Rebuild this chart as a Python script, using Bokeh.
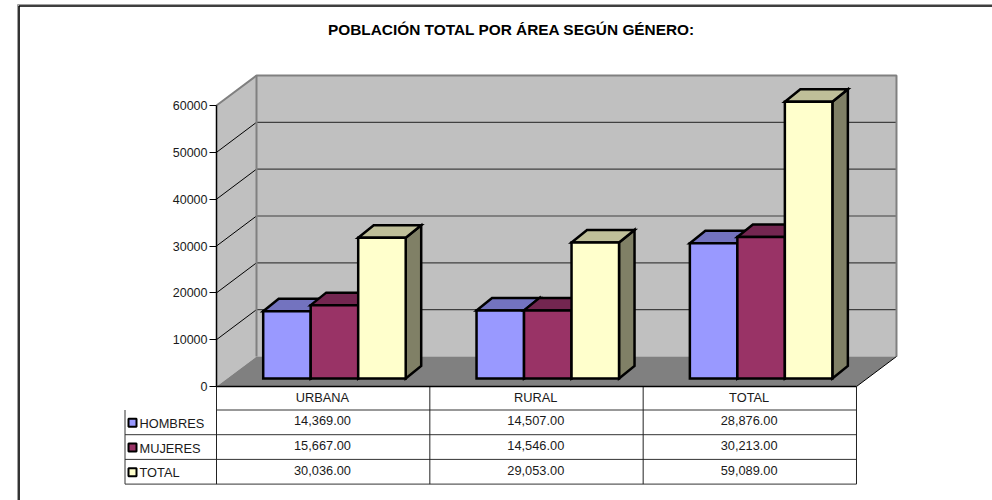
from bokeh.plotting import figure
from bokeh.models import LinearAxis, FixedTicker, Range1d
from bokeh.embed import file_html
from bokeh.resources import INLINE
from bokeh.core.properties import value

TITLE = "POBLACIÓN TOTAL POR ÁREA SEGÚN GÉNERO:"
CATEGORIES = ["URBANA", "RURAL", "TOTAL"]
SERIES = ["HOMBRES", "MUJERES", "TOTAL"]
HOMBRES = [14369, 14507, 28876]
MUJERES = [15667, 14546, 30213]
TOTAL = [30036, 29053, 59089]
TICKS = [0, 10000, 20000, 30000, 40000, 50000, 60000]
FRONT = ["#9999FF", "#993366", "#FFFFCC"]
TOPS = ["#7373BF", "#732650", "#BFBF99"]
SIDES = ["#4D4D80", "#4D1A33", "#808066"]

W, H = 992, 500
PX_X, PX_Y = 213.33, 281 / 60000      # px per category, px per value
X0, Y0 = 216, 386                     # page px of the origin


def dx(px):
    return px / PX_X


def dy(px):
    return px * (1 / PX_Y)


p = figure(width=W, height=H, output_backend="svg", toolbar_location=None,
           x_range=Range1d((0 - X0) / PX_X, (W - X0) / PX_X),
           y_range=Range1d((Y0 - H) / PX_Y, (Y0 - 0) / PX_Y),
           min_border=0, min_border_left=0, min_border_right=0,
           min_border_top=0, min_border_bottom=0,
           x_axis_type=None, y_axis_type=None)
p.grid.visible = False
p.outline_line_color = None
p.background_fill_color = "white"

# 3D walls
ymax = max(TICKS)
wx, wy = dx(40), dy(30)
n = len(CATEGORIES)
p.patch([0, wx, wx, 0], [0, wy, ymax + wy, ymax], fill_color="#C0C0C0", line_color=None)
p.patch([wx, n + wx, n + wx, wx], [wy, wy, ymax + wy, ymax + wy], fill_color="#C0C0C0", line_color=None)
p.patch([0, n, n + wx, wx], [0, 0, wy, wy], fill_color="#808080", line_color=None)

for t in TICKS[1:-1]:
    p.line([0, wx], [t, t + wy], line_color="black", line_width=1)
    p.line([wx, n + wx], [t + wy, t + wy], line_color="#404040", line_width=1.2)
p.line([0, wx, n + wx, n + wx], [ymax, ymax + wy, ymax + wy, wy], line_color="#808080", line_width=2)
p.line([wx, wx], [wy, ymax + wy], line_color="#808080", line_width=2)
p.line([n, n + wx], [0, wy], line_color="black", line_width=1)

# bars
bar_w = dx(47.5)
gap = dx(36)
ox, oy = dx(10.7), dy(8)
bx, by = dx(15.5), dy(12.5)
for i in range(n):
    for s, vals in enumerate([HOMBRES, MUJERES, TOTAL]):
        v = vals[i]
        l = i + ox + gap + s * bar_w
        r = l + bar_w
        b = oy
        t = oy + v
        p.patch([r, r + bx, r + bx, r], [b, b + by, t + by, t], fill_color=SIDES[s],
                line_color="black", line_width=2.5, line_join="miter")
        p.patch([l, r, r + bx, l + bx], [t, t, t + by, t + by], fill_color=TOPS[s],
                line_color="black", line_width=2.5, line_join="miter")
        p.patch([l, r, r, l], [b, b, t, t], fill_color=FRONT[s],
                line_color="black", line_width=2.5, line_join="miter")

# value axis
yax = LinearAxis(fixed_location=0, ticker=FixedTicker(ticks=TICKS), bounds=(0, ymax))
yax.major_label_text_font = "Liberation Sans"
yax.major_label_text_font_size = "12.5px"
yax.major_label_text_color = "#1a1a1a"
yax.major_tick_out = 7
yax.major_tick_in = 0
yax.minor_tick_out = 0
yax.minor_tick_in = 0
yax.major_tick_line_color = "black"
yax.axis_line_color = "black"
yax.axis_line_width = 1.5
yax.major_label_standoff = 2
p.add_layout(yax, "left")

# data table under the chart
row_h = dy(24.7)
rows = [-dy(23.5) - k * row_h for k in range(4)]
leg_l = -dx(91.5)
for k, y in enumerate(rows):
    p.line([leg_l if k else 0, n], [y, y], line_color="#333333", line_width=1)
for x in range(n + 1):
    p.line([x, x], [0, rows[-1]], line_color="#222222", line_width=1)
p.line([leg_l, leg_l], [rows[0], rows[-1]], line_color="#333333", line_width=1)
p.line([0, n], [0, 0], line_color="black", line_width=1.5)

txt = dict(text_font=value("Liberation Sans"), text_font_size="12.8px", text_color="#1a1a1a")
tc = [i + 0.5 - dx(0.7) for i in range(n)]
p.text(tc, [-dy(10.5)] * n, text=CATEGORIES,
       text_align="center", text_baseline="middle", **txt)
for k, (name, vals) in enumerate(zip(SERIES, [HOMBRES, MUJERES, TOTAL])):
    yc = rows[k] - row_h / 2
    p.text(tc, [yc + dy(1.5)] * n, text=[f"{v:,.2f}" for v in vals],
           text_align="center", text_baseline="middle", **txt)
    p.text([leg_l + dx(14.5)], [yc - dy(1)], text=[name], text_align="left", text_baseline="middle", **txt)
    p.scatter([leg_l + dx(7.5)], [yc - dy(0.5)], marker="square", size=8, fill_color=FRONT[k],
              line_color="black", line_width=2)

# title
p.text([dx(511 - X0)], [dy(Y0 - 29)], text=[TITLE], text_align="center", text_baseline="middle",
       text_font=value("Liberation Sans"), text_font_size="15.4px", text_font_style="bold", text_color="black")

# chart frame: only its top and left edges fall inside the picture
fl, fr = dx(18.5 - X0), dx(W - X0)
ft, fb = dy(Y0 - 5.5), dy(Y0 - H)
p.line([dx(17 - X0), dx(17 - X0), fr], [fb, dy(Y0 - 4), dy(Y0 - 4)], line_color="#A0A0A0", line_width=1)
p.line([fl, fl, fr], [fb, ft, ft], line_color="black", line_width=1.6)

open("out.html", "w").write(file_html(p, INLINE))
